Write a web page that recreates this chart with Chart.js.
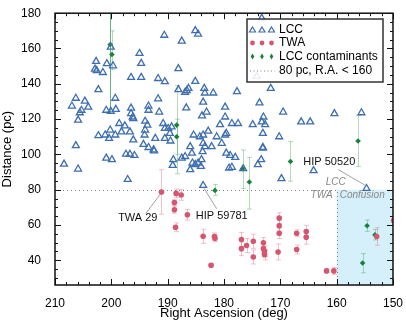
<!DOCTYPE html>
<html>
<head>
<meta charset="utf-8">
<script src="https://cdn.jsdelivr.net/npm/chart.js@4/dist/chart.umd.min.js"></script>
<style>
  html, body { margin: 0; padding: 0; background: #fff; }
  #wrap { width: 406px; height: 325px; }
</style>
</head>
<body>
<div id="wrap"><canvas id="c" width="406" height="325"></canvas></div>
<script>
// LCC members: right ascension (deg) and distance (pc)
const lccRA = [
  190.6, 187.5, 185.1, 184.6, 195.0, 194.7, 202.7, 202.9, 202.6, 201.5, 200.8, 199.7, 200.1, 188.1,
  196.5, 194.7, 191.7, 190.5, 185.1, 202.3, 206.3, 207.0, 204.7, 204.1, 205.3, 205.6, 205.9, 199.3,
  200.9, 200.1, 199.2, 196.5, 196.5, 196.2, 196.1, 193.4, 193.4, 191.7, 191.5, 188.1, 186.6, 186.9,
  186.3, 183.5, 183.4, 181.9, 183.7, 186.7, 183.1, 183.9, 179.8, 198.6, 197.6, 196.7, 198.2, 199.3,
  200.2, 201.1, 202.3, 200.4, 196.1, 194.0, 193.6, 194.0, 194.1, 192.2, 194.3, 193.4, 192.5, 190.8,
  190.5, 189.9, 189.3, 189.6, 190.5, 189.5, 185.4, 184.3, 183.7, 182.8, 186.0, 183.7, 183.4, 182.2,
  181.3, 180.7, 180.4, 179.8, 206.3, 208.4, 205.9, 200.9, 199.9, 197.4, 196.7, 195.9, 197.1, 192.4,
  189.0, 189.1, 187.5, 186.9, 185.7, 185.6, 186.0, 185.1, 184.6, 184.0, 183.8, 184.1, 179.6, 179.1,
  183.7, 178.9, 178.0, 178.6, 176.6, 174.0, 173.4, 173.1, 169.8, 164.1, 154.7, 173.3, 177.7, 171.7,
  173.7, 169.5, 173.0, 179.8, 178.6, 177.5, 174.9, 173.3, 172.7, 179.6, 173.1, 170.2, 173.1, 166.3,
  164.7, 160.4, 155.6, 174.2
];
const lccDist = [
  167.5, 164.2, 170.1, 168.2, 157.2, 151.6, 152.7, 148.3, 147.5, 146.4, 151.4, 150.2, 160.8, 148.6,
  143.6, 143.6, 143.0, 141.2, 141.4, 136.7, 131.8, 127.4, 130.2, 126.8, 125.0, 123.6, 119.4, 131.8,
  125.0, 124.4, 125.5, 126.2, 123.1, 121.2, 120.3, 127.4, 125.0, 131.5, 124.0, 136.7, 136.2, 135.2,
  137.4, 137.4, 134.8, 134.8, 129.6, 126.4, 124.0, 121.8, 126.8, 117.5, 116.2, 112.8, 112.8, 111.0,
  113.8, 111.0, 110.6, 109.1, 108.2, 118.8, 116.6, 113.8, 111.0, 109.1, 105.7, 103.9, 102.6, 117.5,
  114.7, 114.7, 115.6, 111.9, 109.1, 107.6, 111.0, 110.0, 111.0, 113.2, 104.4, 106.3, 104.4, 104.4,
  110.0, 116.9, 106.3, 111.0, 105.0, 94.5, 91.7, 97.9, 97.0, 100.1, 100.1, 99.4, 85.8, 102.0,
  97.0, 93.8, 97.9, 98.8, 100.7, 95.1, 91.4, 94.2, 95.1, 97.0, 101.6, 93.2, 100.7, 92.3,
  82.4, 99.4, 98.3, 92.7, 91.9, 94.2, 97.0, 103.5, 86.3, 90.8, 80.7, 177.2, 135.6, 137.4,
  129.2, 124.0, 121.2, 121.2, 117.5, 117.5, 116.9, 118.4, 116.9, 111.9, 111.9, 110.0, 104.0, 118.4,
  118.4, 123.1, 123.6, 144.2
];

// TWA members with symmetric distance errors
const twaRA = [
  191.1, 188.5, 187.6, 188.8, 188.8, 186.5, 188.6, 183.7, 181.7, 181.6, 182.3, 176.9, 176.9, 176.0,
  174.8, 174.8, 173.0, 173.0, 172.8, 172.8, 170.4, 170.2, 170.2, 170.2, 167.1, 167.1, 165.4, 165.4,
  161.8, 160.5, 152.9, 149.9
];
const twaDist = [
  78.7, 77.9, 77.0, 72.7, 68.6, 65.8, 58.7, 53.6, 53.5, 52.5, 37.2, 51.8, 46.6, 48.4,
  50.8, 41.9, 49.9, 46.6, 45.1, 43.2, 44.7, 63.9, 59.6, 55.3, 55.3, 46.1, 56.3, 53.1,
  34.0, 34.0, 53.5, 62.5
];
const twaErr = [
  12.6, 2.5, 3, 1.5, 2, 3, 2.5, 4, 2, 2, 1, 4, 4, 4,
  4, 4, 3, 3, 3, 3, 4.5, 3, 3, 3, 2, 2.5, 3.5, 4,
  1, 2, 5, 3
];

// LCC contaminants with lower / upper distance bounds
const conRA = [200.2, 199.9, 188.4, 188.4, 181.6, 176.7, 175.5, 168.2, 156.2, 154.6, 153.2, 155.4];
const conDist = [162.3, 156.6, 116.6, 110.0, 79.6, 91.9, 84.4, 96.0, 107.6, 59.6, 54.4, 38.5];
const conLo = [124, 148, 89, 100, 76.8, 80.7, 69.0, 84.8, 93.2, 56.4, 51.5, 32.9];
const conHi = [200, 170, 139, 120, 83, 102.5, 98.3, 107.2, 122.2, 62.8, 57.5, 43.8];

// 80 pc / R.A. 160 boundary
const cutDist = 80;
const cutRA = 160;

const xTicks = [210, 200, 190, 180, 170, 160, 150];
const yTicks = [40, 60, 80, 100, 120, 140, 160, 180];

const legendLabels = ["LCC", "TWA", "LCC contaminants", "80 pc, R.A. < 160"];

// labelled stars: text, point, text anchor
const notes = [
  { text: "TWA 29", ra: 191.1, d: 78.7, tra: 195.3, td: 63.7 },
  { text: "HIP 59781", ra: 183.7, d: 82.4, tra: 180.4, td: 65.2 },
  { text: "HIP 50520", ra: 154.7, d: 80.7, tra: 161.3, td: 95.6 },
];

const BLUE = "#3d6eb0";
const PINK = "#d5576f";
const GREEN = "#17823a";
const FONT = "'Liberation Sans', Arial, Helvetica, sans-serif";

const pts = (xs, ys) => xs.map((x, i) => ({ x, y: ys[i] }));

const decor = {
  id: "decor",
  beforeDatasetsDraw(chart) {
    const { ctx, scales: { x, y } } = chart;
    ctx.save();
    // confusion zone
    ctx.fillStyle = "#d5f0fb";
    const x0 = x.getPixelForValue(cutRA), x1 = x.getPixelForValue(150);
    const y0 = y.getPixelForValue(cutDist), y1 = y.getPixelForValue(y.min);
    ctx.fillRect(x0, y0, x1 - x0, y1 - y0);
    // boundary
    ctx.strokeStyle = "#808080";
    ctx.lineWidth = 1;
    ctx.setLineDash([1, 3]);
    ctx.beginPath();
    ctx.moveTo(x.getPixelForValue(210), Math.round(y0) + 0.5);
    ctx.lineTo(Math.round(x0) + 0.5, Math.round(y0) + 0.5);
    ctx.lineTo(Math.round(x0) + 0.5, y1);
    ctx.stroke();
    ctx.setLineDash([]);

    // error bars
    const bar = (ra, lo, hi, color) => {
      const px = Math.round(x.getPixelForValue(ra)) + 0.5;
      const pl = y.getPixelForValue(Math.max(lo, y.min));
      const ph = y.getPixelForValue(Math.min(hi, y.max));
      ctx.strokeStyle = color;
      ctx.lineWidth = 1;
      ctx.beginPath();
      ctx.moveTo(px, pl); ctx.lineTo(px, ph);
      if (lo >= y.min) { ctx.moveTo(px - 2.5, pl); ctx.lineTo(px + 2.5, pl); }
      if (hi <= y.max) { ctx.moveTo(px - 2.5, ph); ctx.lineTo(px + 2.5, ph); }
      ctx.stroke();
    };
    ctx.save();
    ctx.beginPath();
    ctx.rect(chart.chartArea.left, chart.chartArea.top, chart.chartArea.width, chart.chartArea.height);
    ctx.clip();
    twaRA.forEach((ra, i) => bar(ra, twaDist[i] - twaErr[i], twaDist[i] + twaErr[i], "rgba(226,120,142,0.45)"));
    conRA.forEach((ra, i) => bar(ra, conLo[i], conHi[i], i === 0 ? "rgba(40,150,70,0.7)" : "rgba(60,165,85,0.4)"));
    ctx.restore();
    ctx.restore();
  },
  afterDraw(chart) {
    const { ctx, chartArea: a, scales: { x, y } } = chart;
    ctx.save();
    // frame
    ctx.strokeStyle = "#111";
    ctx.lineWidth = 1.5;
    ctx.strokeRect(a.left, a.top, a.width, a.height);
    // inward ticks
    ctx.lineWidth = 1;
    ctx.beginPath();
    for (let v = 150; v <= 210; v += 2) {
      const px = Math.round(x.getPixelForValue(v)) + 0.5;
      const len = v % 10 === 0 ? 6 : 3;
      ctx.moveTo(px, a.bottom); ctx.lineTo(px, a.bottom - len);
      ctx.moveTo(px, a.top); ctx.lineTo(px, a.top + len);
    }
    for (let v = 30; v <= 180; v += 5) {
      const py = Math.round(y.getPixelForValue(v)) + 0.5;
      const len = v % 20 === 0 ? 6 : 3;
      ctx.moveTo(a.left, py); ctx.lineTo(a.left + len, py);
      ctx.moveTo(a.right, py); ctx.lineTo(a.right - len, py);
    }
    ctx.stroke();

    // annotations
    ctx.font = "11px " + FONT;
    ctx.fillStyle = "#111";
    ctx.textAlign = "center";
    ctx.textBaseline = "middle";
    notes.forEach((n) => {
      ctx.fillText(n.text, x.getPixelForValue(n.tra), y.getPixelForValue(n.td));
    });
    ctx.strokeStyle = "#8a8a8a";
    ctx.lineWidth = 0.8;
    ctx.beginPath();
    const lead = (n, dx, dy, ox, oy) => {
      ctx.moveTo(x.getPixelForValue(n.tra) + dx, y.getPixelForValue(n.td) + dy);
      ctx.lineTo(x.getPixelForValue(n.ra) + ox, y.getPixelForValue(n.d) + oy);
    };
    lead(notes[0], 8, -5, -1, 2);
    lead(notes[1], -5, -7, 1, 3);
    lead(notes[2], 9, 7.5, -1, -3);
    ctx.stroke();

    const cx = x.getPixelForValue(cutRA), cy = y.getPixelForValue(cutDist);
    ctx.font = "italic 10px " + FONT;
    ctx.fillStyle = "#888";
    ctx.textAlign = "center";
    ctx.fillText("LCC", cx - 1, cy - 7);
    ctx.textAlign = "right";
    ctx.fillText("TWA", cx - 4, cy + 6);
    ctx.textAlign = "left";
    ctx.fillText("Confusion", cx + 3, cy + 6);

    // legend
    const lx = 247, ly = 19, lw = 136, lh = 63;
    ctx.fillStyle = "rgba(255,255,255,0.88)";
    ctx.fillRect(lx, ly, lw, lh);
    ctx.strokeStyle = "#333";
    ctx.lineWidth = 1.5;
    ctx.strokeRect(lx, ly, lw, lh);
    const rowY = [29.5, 43, 56.5, 70.5];
    const mx = [252.5, 262, 271.5];
    ctx.font = "12px " + FONT;
    ctx.textAlign = "left";
    ctx.textBaseline = "middle";
    ctx.fillStyle = "#000";
    legendLabels.forEach((t, i) => ctx.fillText(t, 279, rowY[i]));
    ctx.strokeStyle = BLUE; ctx.lineWidth = 1.2;
    mx.forEach((m) => {
      ctx.beginPath();
      ctx.moveTo(m, rowY[0] - 2.5); ctx.lineTo(m + 3, rowY[0] + 2.5); ctx.lineTo(m - 3, rowY[0] + 2.5); ctx.closePath();
      ctx.stroke();
    });
    ctx.fillStyle = PINK;
    mx.forEach((m) => { ctx.beginPath(); ctx.arc(m, rowY[1], 2.4, 0, Math.PI * 2); ctx.fill(); });
    ctx.fillStyle = GREEN;
    mx.forEach((m) => {
      ctx.beginPath();
      ctx.moveTo(m, rowY[2] - 3); ctx.lineTo(m + 1.8, rowY[2]); ctx.lineTo(m, rowY[2] + 3); ctx.lineTo(m - 1.8, rowY[2]);
      ctx.closePath(); ctx.fill();
    });
    ctx.strokeStyle = "#808080"; ctx.lineWidth = 1;
    ctx.setLineDash([1, 2.5]);
    ctx.beginPath(); ctx.moveTo(250, rowY[3] + 0.5); ctx.lineTo(275, rowY[3] + 0.5); ctx.stroke();
    ctx.restore();
  },
};

new Chart(document.getElementById("c"), {
  type: "scatter",
  data: {
    datasets: [
      {
        label: "LCC",
        data: pts(lccRA, lccDist),
        pointStyle: "triangle",
        pointRadius: 4,
        borderColor: BLUE,
        backgroundColor: "rgba(255,255,255,0)",
        borderWidth: 1.3,
      },
      {
        label: "TWA",
        data: pts(twaRA, twaDist),
        pointStyle: "circle",
        pointRadius: 2.8,
        borderWidth: 0,
        backgroundColor: PINK,
      },
      {
        label: "LCC contaminants",
        data: pts(conRA, conDist),
        pointStyle: "rectRot",
        pointRadius: 2.8,
        borderWidth: 0,
        backgroundColor: GREEN,
      },
    ],
  },
  options: {
    responsive: false,
    animation: false,
    events: [],
    layout: { padding: { top: 10, right: 13, left: 0, bottom: 0 } },
    plugins: { legend: { display: false }, tooltip: { enabled: false } },
    scales: {
      x: {
        type: "linear",
        reverse: true,
        min: 150,
        max: 210,
        afterFit: (s) => { s.height = 40; },
        afterBuildTicks: (s) => { s.ticks = xTicks.map((v) => ({ value: v })); },
        ticks: { color: "#000", padding: 3, maxRotation: 0, font: { family: FONT, size: 12 } },
        grid: { display: false },
        border: { display: false },
        title: { display: true, text: "Right Ascension (deg)", color: "#000", padding: { top: 0, bottom: 4 }, font: { family: FONT, size: 13 } },
      },
      y: {
        min: 26,
        max: 180,
        afterFit: (s) => { s.width = 55; },
        afterBuildTicks: (s) => { s.ticks = yTicks.map((v) => ({ value: v })); },
        ticks: { color: "#000", padding: 6, font: { family: FONT, size: 12 } },
        grid: { display: false },
        border: { display: false },
        title: { display: true, text: "Distance (pc)", color: "#000", padding: { top: 0, bottom: 7 }, font: { family: FONT, size: 13 } },
      },
    },
  },
  plugins: [decor],
});
</script>
</body>
</html>
